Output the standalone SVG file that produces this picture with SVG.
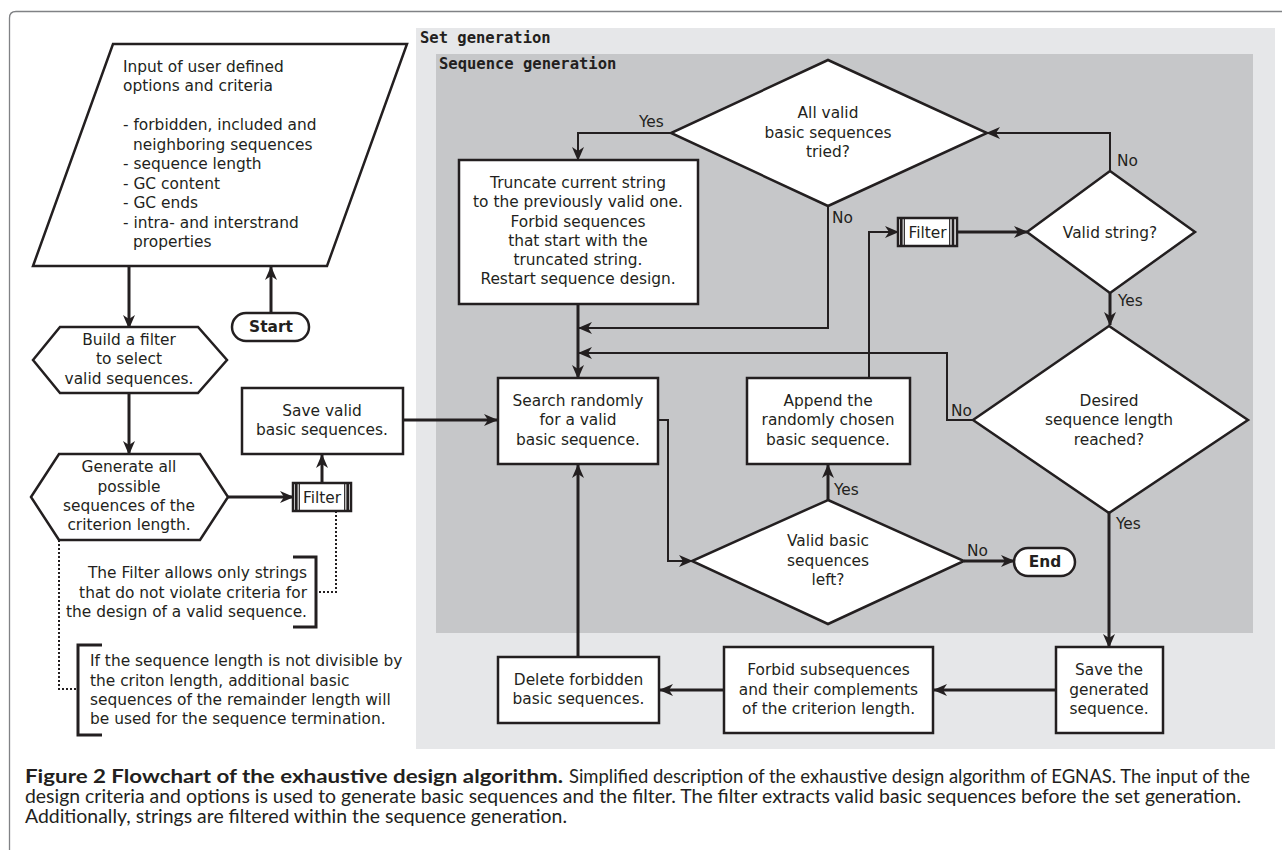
<svg xmlns="http://www.w3.org/2000/svg" width="1282" height="850" viewBox="0 0 1282 850">
<style>
.box{fill:#fff;stroke:#231f20;stroke-width:2.5}
.t{font-family:"DejaVu Sans",sans-serif;font-size:15.4px;fill:#231f20}
.c{text-anchor:middle}
.e{text-anchor:end}
.b{font-weight:bold}
.mono{font-family:"DejaVu Sans Mono",monospace;font-size:15.5px;font-weight:bold;fill:#231f20}
.ln{fill:none;stroke:#231f20;stroke-width:3;marker-end:url(#ah)}
.thin{stroke-width:2}
.dot{fill:none;stroke:#231f20;stroke-width:2;stroke-dasharray:2 2}
.br{fill:none;stroke:#231f20;stroke-width:3}
.fb{stroke:#231f20;stroke-width:2.7}
.fl{stroke:#231f20;stroke-width:1.2}
.cap{font-family:Lato,"Open Sans",sans-serif;font-size:18.5px;fill:#231f20}
</style>
<defs>
<marker id="ah" markerUnits="userSpaceOnUse" viewBox="0 -6 14 12" refX="13" refY="0" markerWidth="14" markerHeight="12" orient="auto">
<path d="M0,-6 L14,0 L0,6 L4,0 Z" fill="#231f20"/>
</marker>
</defs>
<rect width="1282" height="850" fill="#fff"/>
<path d="M9.5 850 V18 Q9.5 11.5 16 11.5 H1282" fill="none" stroke="#808285" stroke-width="1.3"/>

<g id="set-generation">
<rect x="416" y="28" width="859" height="721" fill="#e6e7e9"/>
<text class="mono" x="420" y="43">Set generation</text>
</g>
<g id="sequence-generation">
<rect x="436" y="54" width="817" height="579" fill="#c6c7c9"/>
<text class="mono" x="439" y="69">Sequence generation</text>
</g>

<g id="connectors">
<path class="ln" d="M129 266 V328"/>
<path class="ln" d="M271 313 V267"/>
<path class="ln" d="M129 393 V454"/>
<path class="ln" d="M228 497 H293"/>
<path class="ln" d="M322 483 V455"/>
<path class="ln" d="M403 420 H497"/>
<path class="ln thin" d="M658 420 H668 V561 H692"/>
<path class="ln" d="M828 500 V465"/>
<path class="ln" d="M964 561 H1014"/>
<path class="ln thin" d="M869 378 V232 H898"/>
<path class="ln" d="M957 232 H1027"/>
<path class="ln thin" d="M1110 171 V133 H987"/>
<path class="ln" d="M1110 293 V325"/>
<path class="ln thin" d="M973 420 H947 V353 H579"/>
<path class="ln" d="M1109 513 V647"/>
<path class="ln" d="M1056 690 H934"/>
<path class="ln" d="M724 690 H660"/>
<path class="ln" d="M578 657 V465"/>
<path class="ln thin" d="M671 133 H578 V160"/>
<path class="ln thin" d="M828 206 V328 H579"/>
<path class="ln" d="M578 304 V378"/>
<path class="dot" d="M336 511 V592 H318"/>
<path class="dot" d="M59 540 V689 H77"/>
</g>

<g id="input">
<polygon class="box" points="113,44 407,44 327,266 33,266"/>
<text class="t" x="123" y="72">Input of user defined</text>
<text class="t" x="123" y="91">options and criteria</text>
<text class="t" x="123" y="130">- forbidden, included and</text>
<text class="t" x="133" y="150">neighboring sequences</text>
<text class="t" x="123" y="169">- sequence length</text>
<text class="t" x="123" y="189">- GC content</text>
<text class="t" x="123" y="208">- GC ends</text>
<text class="t" x="123" y="228">- intra- and interstrand</text>
<text class="t" x="133" y="247">properties</text>
</g>

<g id="start">
<rect class="box" x="232" y="313" width="77" height="28" rx="14"/>
<text class="t c b" x="271" y="332">Start</text>
</g>

<g id="build-filter">
<polygon class="box" points="33,360 60,327 198,327 227,360 198,393 60,393"/>
<text class="t c" x="129" y="345">Build a filter</text>
<text class="t c" x="129" y="364">to select</text>
<text class="t c" x="129" y="384">valid sequences.</text>
</g>

<g id="generate-all">
<polygon class="box" points="31,497 59,454 200,454 228,497 200,540 59,540"/>
<text class="t c" x="129" y="472">Generate all</text>
<text class="t c" x="129" y="492">possible</text>
<text class="t c" x="129" y="511">sequences of the</text>
<text class="t c" x="129" y="530">criterion length.</text>
</g>

<g id="filter1">
<rect class="box" x="293" y="483" width="58" height="28" stroke-width="2"/>
<line class="fb" x1="296.3" y1="483" x2="296.3" y2="511"/>
<line class="fl" x1="299.3" y1="483" x2="299.3" y2="511"/>
<line class="fl" x1="344.7" y1="483" x2="344.7" y2="511"/>
<line class="fb" x1="347.7" y1="483" x2="347.7" y2="511"/>
<text class="t c" x="322" y="502.5">Filter</text>
</g>

<g id="save-valid">
<rect class="box" x="242" y="388" width="161" height="66"/>
<text class="t c" x="322" y="416">Save valid</text>
<text class="t c" x="322" y="435">basic sequences.</text>
</g>

<g id="note-filter">
<path class="br" d="M293 557 H316 V627 H293"/>
<text class="t e" x="307" y="578">The Filter allows only strings</text>
<text class="t e" x="307" y="598">that do not violate criteria for</text>
<text class="t e" x="307" y="617">the design of a valid sequence.</text>
</g>

<g id="note-remainder">
<path class="br" d="M102 645 H78 V735 H102"/>
<text class="t" x="90" y="666">If the sequence length is not divisible by</text>
<text class="t" x="90" y="686">the criton length, additional basic</text>
<text class="t" x="90" y="705">sequences of the remainder length will</text>
<text class="t" x="90" y="724">be used for the sequence termination.</text>
</g>

<g id="all-tried">
<polygon class="box" points="828,60 987,133 828,206 671,133"/>
<text class="t c" x="828" y="118">All valid</text>
<text class="t c" x="828" y="138">basic sequences</text>
<text class="t c" x="828" y="157">tried?</text>
<text class="t" x="639" y="127">Yes</text>
<text class="t" x="832" y="223">No</text>
</g>

<g id="truncate">
<rect class="box" x="459" y="160" width="239" height="144"/>
<text class="t c" x="578" y="188">Truncate current string</text>
<text class="t c" x="578" y="207">to the previously valid one.</text>
<text class="t c" x="578" y="227">Forbid sequences</text>
<text class="t c" x="578" y="246">that start with the</text>
<text class="t c" x="578" y="265">truncated string.</text>
<text class="t c" x="578" y="284">Restart sequence design.</text>
</g>

<g id="filter2">
<rect class="box" x="898" y="218" width="59" height="28" stroke-width="2"/>
<line class="fb" x1="901.3" y1="218" x2="901.3" y2="246"/>
<line class="fl" x1="904.3" y1="218" x2="904.3" y2="246"/>
<line class="fl" x1="949.7" y1="218" x2="949.7" y2="246"/>
<line class="fb" x1="953" y1="218" x2="953" y2="246"/>
<text class="t c" x="927.5" y="237.5">Filter</text>
</g>

<g id="valid-string">
<polygon class="box" points="1110,171 1195,232 1110,293 1027,232"/>
<text class="t c" x="1110" y="237.5">Valid string?</text>
<text class="t" x="1117" y="166">No</text>
<text class="t" x="1118" y="306">Yes</text>
</g>

<g id="desired-length">
<polygon class="box" points="1109,326 1248,420 1109,513 973,420"/>
<text class="t c" x="1109" y="406">Desired</text>
<text class="t c" x="1109" y="425">sequence length</text>
<text class="t c" x="1109" y="445">reached?</text>
<text class="t" x="951" y="416">No</text>
<text class="t" x="1116" y="529">Yes</text>
</g>

<g id="search">
<rect class="box" x="498" y="378" width="160" height="86"/>
<text class="t c" x="578" y="406">Search randomly</text>
<text class="t c" x="578" y="425">for a valid</text>
<text class="t c" x="578" y="445">basic sequence.</text>
</g>

<g id="append">
<rect class="box" x="747" y="378" width="163" height="86"/>
<text class="t c" x="828" y="406">Append the</text>
<text class="t c" x="828" y="425">randomly chosen</text>
<text class="t c" x="828" y="445">basic sequence.</text>
</g>

<g id="valid-basic-left">
<polygon class="box" points="828,500 964,561 828,624 692,561"/>
<text class="t c" x="828" y="546">Valid basic</text>
<text class="t c" x="828" y="566">sequences</text>
<text class="t c" x="828" y="585">left?</text>
<text class="t" x="834" y="495">Yes</text>
<text class="t" x="967" y="556">No</text>
</g>

<g id="end">
<rect class="box" x="1014" y="548" width="61" height="28" rx="14"/>
<text class="t c b" x="1045" y="567">End</text>
</g>

<g id="save-generated">
<rect class="box" x="1056" y="647" width="107" height="86"/>
<text class="t c" x="1109" y="675">Save the</text>
<text class="t c" x="1109" y="695">generated</text>
<text class="t c" x="1109" y="714">sequence.</text>
</g>

<g id="forbid-subsequences">
<rect class="box" x="724" y="647" width="209" height="86"/>
<text class="t c" x="828.5" y="675">Forbid subsequences</text>
<text class="t c" x="828.5" y="695">and their complements</text>
<text class="t c" x="828.5" y="714">of the criterion length.</text>
</g>

<g id="delete-forbidden">
<rect class="box" x="498" y="657" width="161" height="66"/>
<text class="t c" x="578.5" y="685">Delete forbidden</text>
<text class="t c" x="578.5" y="704">basic sequences.</text>
</g>

<g id="caption">
<text class="cap b" x="25" y="783" textLength="538" lengthAdjust="spacingAndGlyphs">Figure 2 Flowchart of the exhaustive design algorithm.</text>
<text class="cap" x="569" y="783" textLength="681" lengthAdjust="spacingAndGlyphs">Simplified description of the exhaustive design algorithm of EGNAS. The input of the</text>
<text class="cap" x="25" y="803" textLength="1216" lengthAdjust="spacingAndGlyphs">design criteria and options is used to generate basic sequences and the filter. The filter extracts valid basic sequences before the set generation.</text>
<text class="cap" x="25" y="823" textLength="542" lengthAdjust="spacingAndGlyphs">Additionally, strings are filtered within the sequence generation.</text>
</g>
</svg>
